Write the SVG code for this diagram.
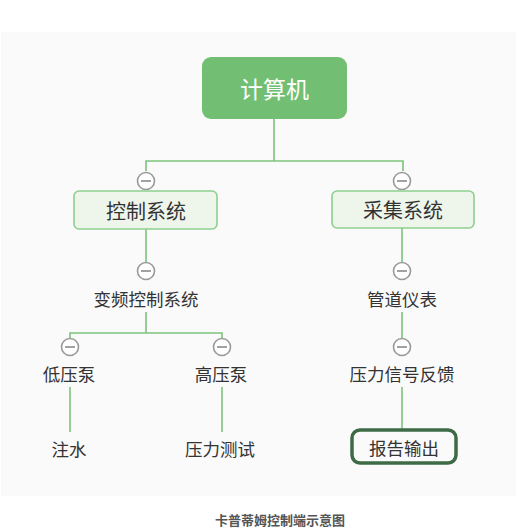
<svg xmlns="http://www.w3.org/2000/svg" width="530" height="532" viewBox="0 0 530 532">
<defs>
<style>
.t{font-family:"Noto Sans CJK SC","Noto Sans",sans-serif;fill:#333;text-anchor:middle;dominant-baseline:central}
.c path{stroke:#7cc47c;stroke-width:1.6;fill:none}
</style>
<g id="collapse">
<circle cx="0" cy="0" r="8.5" fill="#fff" stroke="#9a9a9a" stroke-width="1.6"/>
<line x1="-5" y1="0" x2="5" y2="0" stroke="#8a8a8a" stroke-width="1.6"/>
</g>
</defs>
<rect x="0" y="0" width="530" height="532" fill="#fff"/>
<rect x="1" y="32" width="515" height="464" fill="#fafafa"/>
<g id="connectors" class="c">
<path d="M274 119V161M146 171V161H403V171"/>
<path d="M146 229V262"/>
<path d="M146 312V333M70 339V333H222V339"/>
<path d="M70 387V432"/>
<path d="M222 387V432"/>
<path d="M402 228V262"/>
<path d="M402 312V338"/>
<path d="M402 387V430"/>
</g>
<g id="collapse-buttons">
<use href="#collapse" x="146" y="181"/>
<use href="#collapse" x="402" y="181"/>
<use href="#collapse" x="146" y="271"/>
<use href="#collapse" x="70" y="347"/>
<use href="#collapse" x="222" y="347"/>
<use href="#collapse" x="402" y="271"/>
<use href="#collapse" x="402" y="347"/>
</g>
<g id="root">
<rect x="202" y="57" width="145" height="62" rx="9" fill="#72bf74"/>
<text class="t" x="274.5" y="88" font-size="23" style="fill:#fff">计算机</text>
</g>
<g id="control">
<rect x="74" y="191" width="143" height="38" rx="5" fill="#eef6ec" stroke="#8fcf8f" stroke-width="1.6"/>
<text class="t" x="146" y="210" font-size="20">控制系统</text>
</g>
<g id="collect">
<rect x="332" y="191" width="142" height="37" rx="5" fill="#eef6ec" stroke="#8fcf8f" stroke-width="1.6"/>
<text class="t" x="403" y="209.5" font-size="20">采集系统</text>
</g>
<g id="vfd"><text class="t" x="146" y="298" font-size="17.5">变频控制系统</text></g>
<g id="lowpump"><text class="t" x="69" y="373" font-size="17.5">低压泵</text></g>
<g id="highpump"><text class="t" x="221" y="373" font-size="17.5">高压泵</text></g>
<g id="water"><text class="t" x="69" y="448" font-size="17.5">注水</text></g>
<g id="ptest"><text class="t" x="220" y="448" font-size="17.5">压力测试</text></g>
<g id="pipe"><text class="t" x="402" y="298" font-size="17.5">管道仪表</text></g>
<g id="feedback"><text class="t" x="402" y="373" font-size="17.5">压力信号反馈</text></g>
<g id="report">
<rect x="352" y="430" width="104" height="33" rx="8" fill="#fafafa" stroke="#3e6b46" stroke-width="3.5"/>
<text class="t" x="404" y="447" font-size="17.5">报告输出</text>
</g>
<text x="280" y="519" font-family="Noto Sans CJK SC, sans-serif" font-size="13" font-weight="bold" fill="#555" text-anchor="middle" dominant-baseline="central">卡普蒂姆控制端示意图</text>
</svg>
